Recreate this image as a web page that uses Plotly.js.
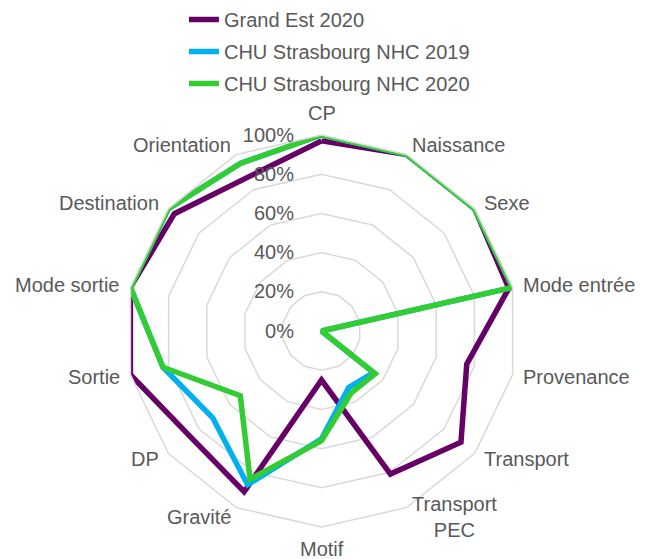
<!DOCTYPE html>
<html>
<head>
<meta charset="utf-8">
<script src="https://cdn.plot.ly/plotly-3.0.1.min.js"></script>
<style>html,body{margin:0;padding:0;background:#fff;}#chart{width:650px;height:559px;}</style>
</head>
<body>
<div id="chart"></div>
<script>
const categories = ["CP","Naissance","Sexe","Mode entrée","Provenance","Transport","Transport PEC","Motif","Gravité","DP","Sortie","Mode sortie","Destination","Orientation"];
const categoryLabels = ["CP","Naissance","Sexe","Mode entrée","Provenance","Transport","Transport<br>PEC","Motif","Gravité","DP","Sortie","Mode sortie","Destination","Orientation"];
const seriesNames = ["Grand Est 2020","CHU Strasbourg NHC 2019","CHU Strasbourg NHC 2020"];
const grandEst2020 = [0.97,1.00,1.00,0.98,0.76,0.91,0.81,0.25,0.91,0.86,1.00,1.00,0.96,0.87];
const chu2019 = [1.00,1.00,1.00,1.00,0.00,0.34,0.32,0.55,0.87,0.71,0.83,1.00,1.00,0.95];
const chu2020 = [1.00,1.00,1.00,1.00,0.00,0.35,0.35,0.56,0.84,0.53,0.83,1.00,1.00,0.95];
const radialTicks = [0,0.2,0.4,0.6,0.8,1.0];
const colors = ["#660066","#00b0f0","#33cc33"];

const W = 650, H = 559;
const domX = [0.1931, 0.7962], domY = [0.0572, 0.7585];

const allSeries = [grandEst2020, chu2019, chu2020];
const traces = allSeries.map((vals, i) => ({
  type: "scatterpolar",
  mode: "lines",
  r: vals.concat([vals[0]]),
  theta: categories.concat([categories[0]]),
  name: seriesNames[i],
  legendgroup: "g" + i,
  line: {color: colors[i], width: 5.5, shape: "linear"},
  hoverinfo: "skip"
}));

// Category labels placed Excel-style around the outer ring (derived from polar domain)
const cxPx = (domX[0] + domX[1]) / 2 * W;
const cyPx = (1 - (domY[0] + domY[1]) / 2) * H;
const Rpx = Math.min((domX[1] - domX[0]) * W, (domY[1] - domY[0]) * H) / 2;
const pad = 10;
const annotations = categoryLabels.map((lab, i) => {
  const th = i * 2 * Math.PI / categoryLabels.length;
  const sx = Math.sin(th), cy = Math.cos(th);
  const px = cxPx + (Rpx + pad) * sx;
  const py = cyPx - (Rpx + pad) * cy;
  let xanchor = "center", yanchor = "middle";
  if (sx > 0.1) xanchor = "left"; else if (sx < -0.1) xanchor = "right";
  if (Math.abs(sx) <= 0.1) yanchor = cy > 0 ? "bottom" : "top";
  return {
    x: px / W, y: 1 - py / H, xref: "paper", yref: "paper",
    text: lab, showarrow: false, xanchor: xanchor, yanchor: yanchor,
    align: "center", borderpad: 0,
    font: {size: 20, color: "#595959", family: "'Liberation Sans', Arial, sans-serif"}
  };
});

const layout = {
  width: W, height: H,
  margin: {l: 0, r: 0, t: 0, b: 0},
  paper_bgcolor: "#fff",
  font: {family: "'Liberation Sans', Arial, sans-serif", color: "#595959", size: 20},
  showlegend: true,
  legend: {
    x: 0.283, y: 1.0, xanchor: "left", yanchor: "top",
    font: {size: 20, color: "#595959"},
    traceorder: "grouped",
    tracegroupgap: 3,
    bgcolor: "rgba(0,0,0,0)"
  },
  annotations: annotations,
  polar: {
    domain: {x: domX, y: domY},
    gridshape: "linear",
    bgcolor: "rgba(0,0,0,0)",
    angularaxis: {
      direction: "clockwise",
      rotation: 90,
      categoryorder: "array",
      categoryarray: categories,
      showgrid: false,
      showline: true,
      linecolor: "#d9d9d9",
      linewidth: 1.5,
      ticks: "",
      showticklabels: false
    },
    radialaxis: {
      range: [0, 1],
      tickvals: radialTicks,
      tickformat: ".0%",
      angle: 90,
      tickangle: 90,
      side: "counterclockwise",
      showline: false,
      showgrid: true,
      gridcolor: "#d9d9d9",
      gridwidth: 1.5,
      ticks: "outside",
      ticklen: 20,
      tickcolor: "rgba(0,0,0,0)",
      tickfont: {size: 20, color: "#595959"}
    }
  }
};

Plotly.newPlot("chart", traces, layout, {displayModeBar: false, staticPlot: true});
</script>
</body>
</html>
